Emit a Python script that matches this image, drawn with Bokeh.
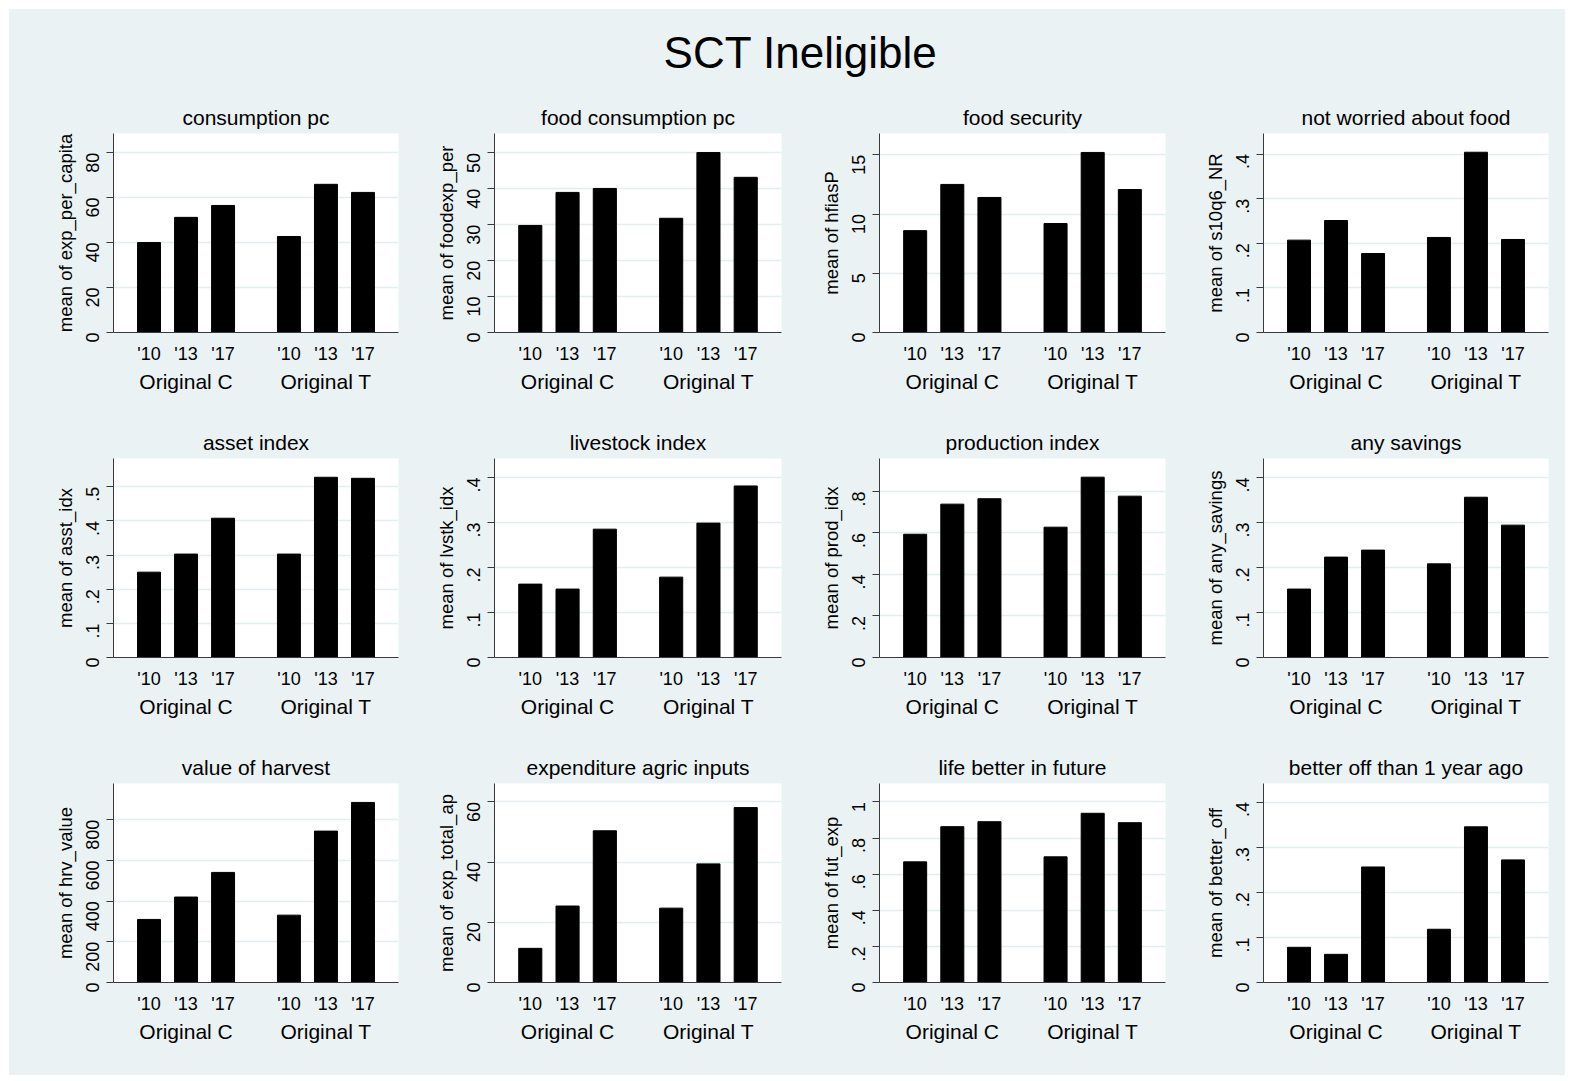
import math
from bokeh.plotting import figure
from bokeh.models import Range1d, FixedTicker, LinearAxis, Label, Grid
from bokeh.layouts import column, row
from bokeh.embed import file_html
from bokeh.resources import INLINE

# ---------------- data ----------------
main_title = "SCT Ineligible"
groups = ["Original C", "Original T"]
years = ["'10", "'13", "'17"]

panel_titles = [
    "consumption pc", "food consumption pc", "food security", "not worried about food",
    "asset index", "livestock index", "production index", "any savings",
    "value of harvest", "expenditure agric inputs", "life better in future", "better off than 1 year ago",
]
y_titles = [
    "mean of exp_per_capita", "mean of foodexp_per", "mean of hfiasP", "mean of s10q6_NR",
    "mean of asst_idx", "mean of lvstk_idx", "mean of prod_idx", "mean of any_savings",
    "mean of hrv_value", "mean of exp_total_ap", "mean of fut_exp", "mean of better_off",
]

# values ordered: Original C '10,'13,'17, Original T '10,'13,'17
consumption_pc = [40.0, 51.2, 56.5, 42.7, 65.9, 62.3]
food_consumption_pc = [29.8, 39.0, 40.1, 31.8, 50.1, 43.2]
food_security = [8.6, 12.5, 11.4, 9.2, 15.2, 12.07]
not_worried = [0.207, 0.251, 0.177, 0.213, 0.404, 0.2085]
asset_index = [0.250, 0.303, 0.408, 0.303, 0.528, 0.525]
livestock_index = [0.163, 0.152, 0.285, 0.1785, 0.2985, 0.381]
production_index = [0.594, 0.739, 0.765, 0.628, 0.869, 0.7775]
any_savings = [0.152, 0.223, 0.2385, 0.208, 0.356, 0.294]
value_of_harvest = [310, 420, 541, 331, 744, 885]
expenditure_agric = [11.35, 25.4, 50.4, 24.7, 39.4, 58.1]
life_better = [0.668, 0.863, 0.8905, 0.696, 0.937, 0.885]
better_off = [0.078, 0.0624, 0.256, 0.118, 0.345, 0.2717]

series = [consumption_pc, food_consumption_pc, food_security, not_worried,
          asset_index, livestock_index, production_index, any_savings,
          value_of_harvest, expenditure_agric, life_better, better_off]

y_ticks = [
    [0, 20, 40, 60, 80], [0, 10, 20, 30, 40, 50], [0, 5, 10, 15], [0, 0.1, 0.2, 0.3, 0.4],
    [0, 0.1, 0.2, 0.3, 0.4, 0.5], [0, 0.1, 0.2, 0.3, 0.4], [0, 0.2, 0.4, 0.6, 0.8], [0, 0.1, 0.2, 0.3, 0.4],
    [0, 200, 400, 600, 800], [0, 20, 40, 60], [0, 0.2, 0.4, 0.6, 0.8, 1], [0, 0.1, 0.2, 0.3, 0.4],
]
y_tick_labels = [
    ["0", "20", "40", "60", "80"], ["0", "10", "20", "30", "40", "50"], ["0", "5", "10", "15"], ["0", ".1", ".2", ".3", ".4"],
    ["0", ".1", ".2", ".3", ".4", ".5"], ["0", ".1", ".2", ".3", ".4"], ["0", ".2", ".4", ".6", ".8"], ["0", ".1", ".2", ".3", ".4"],
    ["0", "200", "400", "600", "800"], ["0", "20", "40", "60"], ["0", ".2", ".4", ".6", ".8", "1"], ["0", ".1", ".2", ".3", ".4"],
]
y_max = [88.5, 55.4, 16.8, 0.446, 0.583, 0.442, 0.959, 0.442, 978, 66.1, 1.102, 0.441]

# ---------------- style / layout ----------------
FONT = "Liberation Sans"
BG = "#EAF2F3"
AXIS = "#3a3a3a"
GRID = "#E4EDEF"

col_widths = [419, 385, 384, 368]
col_left = [104, 66, 66, 66]
col_right = [30, 32, 32, 17]
row_heights = [325, 325, 340]
border_top = 48
frame_h = 199

GAP = 0.78      # extra space between groups (in bar-slot units)
PAD = 0.96      # outer space (in bar-slot units)
BAR_W = 0.62


def make_panel(k, r, c):
    ny = len(years)
    xs = [PAD + gi * (ny + GAP) + yi for gi in range(len(groups)) for yi in range(ny)]
    x_end = xs[-1] + PAD
    gcent = [PAD + gi * (ny + GAP) + (ny - 1) / 2 for gi in range(len(groups))]
    h = row_heights[r]
    p = figure(width=col_widths[c], height=h,
               x_range=Range1d(0, x_end), y_range=Range1d(0, y_max[k]),
               x_axis_type=None, y_axis_type=None,
               output_backend="svg", toolbar_location=None,
               min_border_left=col_left[c], min_border_right=col_right[c],
               min_border_top=border_top, min_border_bottom=h - border_top - frame_h)
    p.background_fill_color = "white"
    p.border_fill_color = BG
    p.outline_line_color = None
    p.styles = {"background-color": BG}

    p.title.text = panel_titles[k]
    p.title.align = "center"
    p.title.text_font = FONT
    p.title.text_font_size = "21px"
    p.title.text_font_style = "normal"
    p.title.text_color = "black"
    p.title.standoff = 9

    yt = FixedTicker(ticks=y_ticks[k])
    p.add_layout(Grid(dimension=1, ticker=yt, grid_line_color=GRID, grid_line_width=1.5))

    p.vbar(x=xs, top=series[k], width=BAR_W, bottom=0, fill_color="black", line_color="black")

    yax = LinearAxis(ticker=yt,
                     major_label_overrides={t: l for t, l in zip(y_ticks[k], y_tick_labels[k])},
                     axis_label=y_titles[k])
    yax.axis_line_color = AXIS
    yax.major_tick_line_color = AXIS
    yax.major_tick_out = 7
    yax.major_tick_in = 0
    yax.minor_tick_line_color = None
    yax.major_label_orientation = math.pi / 2
    yax.major_label_standoff = 14
    yax.major_label_text_font = FONT
    yax.major_label_text_font_size = "18px"
    yax.major_label_text_color = "black"
    yax.axis_label_text_font = FONT
    yax.axis_label_text_font_size = "18.5px"
    yax.axis_label_text_font_style = "normal"
    yax.axis_label_text_color = "black"
    yax.axis_label_standoff = 1
    p.add_layout(yax, "left")

    xa = LinearAxis(ticker=FixedTicker(ticks=xs),
                    major_label_overrides={x: years[i % ny] for i, x in enumerate(xs)})
    xa.axis_line_color = AXIS
    xa.major_tick_line_color = None
    xa.major_tick_out = 0
    xa.major_tick_in = 0
    xa.minor_tick_line_color = None
    xa.major_label_standoff = 11
    xa.major_label_text_font = FONT
    xa.major_label_text_font_size = "18px"
    xa.major_label_text_color = "black"
    p.add_layout(xa, "below")

    ga = LinearAxis(ticker=FixedTicker(ticks=gcent),
                    major_label_overrides={x: groups[i] for i, x in enumerate(gcent)})
    ga.axis_line_color = None
    ga.major_tick_line_color = None
    ga.major_tick_out = 0
    ga.major_tick_in = 0
    ga.minor_tick_line_color = None
    ga.major_label_standoff = 3
    ga.major_label_text_font = FONT
    ga.major_label_text_font_size = "21px"
    ga.major_label_text_color = "black"
    p.add_layout(ga, "below")
    return p


title_fig = figure(width=sum(col_widths), height=76, x_range=Range1d(0, 1), y_range=Range1d(0, 1),
                   x_axis_type=None, y_axis_type=None, output_backend="svg", toolbar_location=None,
                   min_border=0)
title_fig.background_fill_color = BG
title_fig.border_fill_color = BG
title_fig.outline_line_color = None
title_fig.xgrid.visible = False
title_fig.ygrid.visible = False
title_fig.styles = {"background-color": BG}
title_fig.add_layout(Label(x=sum(col_widths) / 2 + 13, y=33, x_units="screen", y_units="screen",
                           text=main_title, text_align="center", text_baseline="middle",
                           text_font=FONT, text_font_size="44px", text_color="black"))

rows = []
for r in range(3):
    rows.append(row(*[make_panel(r * 4 + c, r, c) for c in range(4)], spacing=0,
                    styles={"background-color": BG}))

layout = column(title_fig, *rows, spacing=0, styles={"background-color": BG})
layout.margin = (9, 0, 0, 9)

open("out.html", "w").write(file_html(layout, INLINE))
